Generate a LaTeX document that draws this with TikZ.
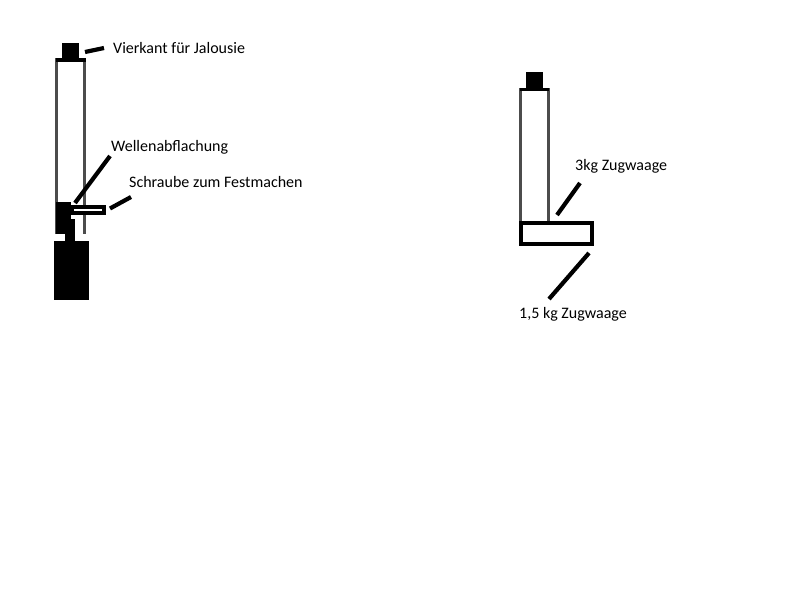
\documentclass[tikz,border=0pt]{standalone}
\usepackage{fontspec}
\setmainfont{Carlito}
\usetikzlibrary{positioning}
\tikzset{
	wall/.style = {draw=black!70, line width=2.1pt},
	solid part/.style = {fill=black},
	leader/.style = {black, line width=4.2pt},
	label/.style = {anchor=west, inner sep=0pt, font=\fontsize{16}{19}\selectfont},
}
\begin{document}
\begin{tikzpicture}[x=1pt, y=-1pt]
	\useasboundingbox (0,0) rectangle (800,600);
	% left shaft
	\draw[wall] (56.5,234) -- ++(0,-174.5) -- ++(28,0) -- ++(0,174.5);
	\fill[solid part] (62,43) rectangle (79,58);
	\fill[solid part] (55.5,58) rectangle (85.5,62);
	% clamp, neck and motor
	\fill[solid part] (56,202) rectangle (71,234);
	\fill[solid part] (65,219) rectangle (75,241);
	\fill[solid part] (54,241) rectangle (89,299.5);
	% screw
	\fill[solid part] (71,205) rectangle (106,215);
	\fill[white] (74,209) rectangle (102,211);
	% labels
	\node[label] (vierkant) at (113,48.5) {Vierkant für Jalousie};
	\node[label] (abflachung) at (111,147.5) {Wellenabflachung};
	\node[label] (schraube) at (129,182) {Schraube zum Festmachen};
	\coordinate (vierkantA) at (85,52);
	\coordinate (vierkantB) at (104,48);
	\coordinate (abflachungA) at (75,203);
	\coordinate (abflachungB) at (110,156);
	\coordinate (schraubeA) at (110,208.5);
	\coordinate (schraubeB) at (131,197);
	\draw[leader] (vierkantA) -- (vierkantB);
	\draw[leader] (abflachungA) -- (abflachungB);
	\draw[leader] (schraubeA) -- (schraubeB);
	% right shaft
	\draw[wall] (520.5,222) -- ++(0,-132.5) -- ++(28,0) -- ++(0,132.5);
	\fill[solid part] (526,72) rectangle (543,88);
	\fill[solid part] (520,88) rectangle (549,91);
	\draw[black, line width=4pt] (521,223) rectangle (592,243.5);
	\node[label] (dreikg) at (575,166.5) {3kg Zugwaage};
	\node[label] (einskg) at (519,314.5) {1,5 kg Zugwaage};
	\coordinate (dreikgA) at (557,215);
	\coordinate (dreikgB) at (580,183);
	\coordinate (einskgA) at (549,299);
	\coordinate (einskgB) at (589,253);
	\draw[leader] (dreikgA) -- (dreikgB);
	\draw[leader] (einskgA) -- (einskgB);
\end{tikzpicture}
\end{document}
